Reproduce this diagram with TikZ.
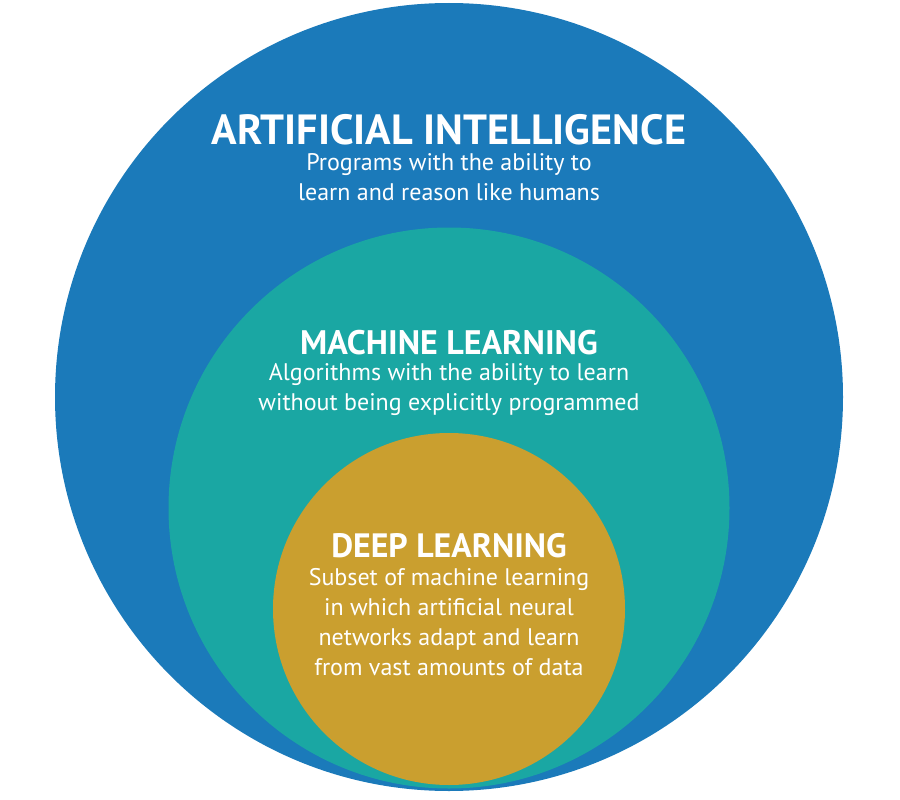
\documentclass[tikz,border=0pt]{standalone}
\usepackage{fontspec}
\setmainfont{PT Sans}
\usepackage{xcolor}
\definecolor{AIBlue}{HTML}{1B7ABA}
\definecolor{MLTeal}{HTML}{1AA7A3}
\definecolor{DLGold}{HTML}{CA9F2F}
\usetikzlibrary{positioning}

\begin{document}
\begin{tikzpicture}[x=1pt,y=-1pt,
 ring/.style={circle,inner sep=0pt},
 head/.style={text=white,inner sep=0pt,anchor=base,font=\fontsize{#1}{#1}\selectfont\bfseries},
 desc/.style={text=white,inner sep=0pt,align=center,font=\fontsize{24}{30}\selectfont}]
\useasboundingbox (0,0) rectangle (900,800);
\node[ring,fill=AIBlue,minimum size=788] (ai) at (449,397) {};
\node[ring,fill=MLTeal,minimum size=561] (ml) at (449,508) {};
\node[ring,fill=DLGold,minimum size=352] (dl) at (449,609) {};
% titles
\node[head=42.2] (aiT) at (449,144) {ARTIFICIAL INTELLIGENCE};
\node[head=34] (mlT) at (449,354) {MACHINE LEARNING};
\node[head=33.8] (dlT) at (449,557) {DEEP LEARNING};
% descriptions
\node[desc,below=9pt of aiT] (aiD) {Programs with the ability to\\learn and reason like humans};
\node[desc,below=9pt of mlT] (mlD) {Algorithms with the ability to learn\\without being explicitly programmed};
\node[desc,below=11pt of dlT] (dlD) {Subset of machine learning\\in which artificial neural\\networks adapt and learn\\from vast amounts of data};
\end{tikzpicture}
\end{document}
